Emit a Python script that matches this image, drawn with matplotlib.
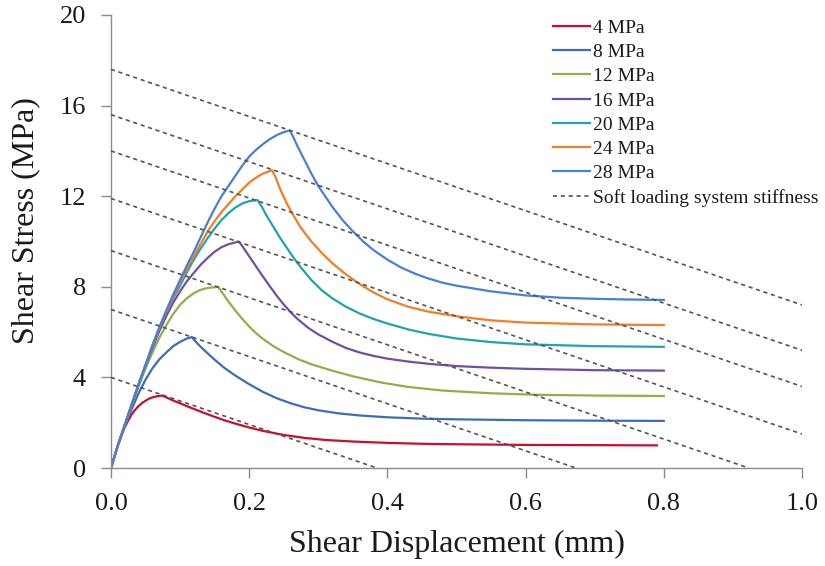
import matplotlib
matplotlib.use("Agg")
import matplotlib.pyplot as plt

# normal stress levels and their shear stress-displacement curves (mm, MPa)
labels = ["4 MPa", "8 MPa", "12 MPa", "16 MPa", "20 MPa", "24 MPa", "28 MPa"]

disp_4 = [0, 0.005, 0.01, 0.015, 0.02, 0.025, 0.03, 0.035, 0.04, 0.045, 0.05, 0.055,
          0.06, 0.067, 0.074, 0.08, 0.09, 0.10, 0.11, 0.12, 0.135, 0.15, 0.165, 0.18,
          0.20, 0.22, 0.25, 0.28, 0.31, 0.35, 0.40, 0.45, 0.50, 0.60, 0.70, 0.79]
stress_4 = [0, 0.5, 1.0, 1.42, 1.8, 2.1, 2.37, 2.57, 2.74, 2.87, 2.97, 3.06,
            3.12, 3.17, 3.2, 3.12, 2.98, 2.86, 2.73, 2.61, 2.43, 2.26, 2.1, 1.96,
            1.79, 1.64, 1.46, 1.33, 1.24, 1.17, 1.11, 1.07, 1.05, 1.02, 1.01, 1.0]

disp_8 = [0, 0.01, 0.02, 0.03, 0.04, 0.05, 0.06, 0.07, 0.08, 0.09, 0.10, 0.11, 0.117,
          0.125, 0.135, 0.15, 0.165, 0.18, 0.20, 0.22, 0.24, 0.26, 0.28, 0.30, 0.33,
          0.36, 0.40, 0.45, 0.50, 0.60, 0.70, 0.80]
stress_8 = [0, 1.0, 1.85, 2.6, 3.3, 3.9, 4.4, 4.8, 5.1, 5.38, 5.57, 5.72, 5.78,
            5.5, 5.2, 4.78, 4.4, 4.08, 3.7, 3.36, 3.08, 2.86, 2.68, 2.55, 2.41,
            2.32, 2.24, 2.18, 2.15, 2.11, 2.09, 2.08]

disp_12 = [0, 0.01, 0.02, 0.03, 0.04, 0.05, 0.06, 0.07, 0.08, 0.09, 0.10, 0.11, 0.12,
           0.13, 0.14, 0.155, 0.162, 0.17, 0.18, 0.19, 0.20, 0.21, 0.22, 0.235, 0.25,
           0.27, 0.29, 0.32, 0.35, 0.39, 0.43, 0.48, 0.55, 0.62, 0.70, 0.80]
stress_12 = [0, 1.0, 1.9, 2.8, 3.6, 4.4, 5.1, 5.75, 6.3, 6.8, 7.2, 7.5, 7.72,
             7.87, 7.95, 8.0, 7.7, 7.35, 6.95, 6.58, 6.25, 5.95, 5.7, 5.38, 5.12,
             4.82, 4.58, 4.3, 4.05, 3.78, 3.58, 3.42, 3.3, 3.23, 3.2, 3.18]

disp_16 = [0, 0.01, 0.02, 0.03, 0.04, 0.05, 0.06, 0.07, 0.08, 0.09, 0.10, 0.11, 0.12,
           0.13, 0.14, 0.15, 0.16, 0.17, 0.185, 0.19, 0.20, 0.21, 0.22, 0.23, 0.24,
           0.25, 0.26, 0.27, 0.285, 0.30, 0.32, 0.34, 0.36, 0.38, 0.40, 0.43, 0.46,
           0.50, 0.55, 0.60, 0.70, 0.80]
stress_16 = [0, 1.0, 1.9, 2.8, 3.7, 4.5, 5.3, 6.05, 6.7, 7.3, 7.8, 8.25, 8.62,
             8.98, 9.28, 9.55, 9.75, 9.88, 10.0, 9.8, 9.35, 8.9, 8.45, 8.02, 7.6,
             7.22, 6.88, 6.58, 6.2, 5.9, 5.58, 5.3, 5.1, 4.95, 4.83, 4.7, 4.6,
             4.5, 4.43, 4.38, 4.32, 4.3]

disp_20 = [0, 0.01, 0.02, 0.03, 0.04, 0.05, 0.06, 0.07, 0.08, 0.09, 0.10, 0.11, 0.12,
           0.13, 0.14, 0.15, 0.16, 0.17, 0.18, 0.19, 0.20, 0.212, 0.218, 0.225, 0.235,
           0.245, 0.255, 0.265, 0.275, 0.29, 0.305, 0.32, 0.34, 0.36, 0.38, 0.40,
           0.43, 0.46, 0.50, 0.55, 0.60, 0.70, 0.80]
stress_20 = [0, 1.0, 1.9, 2.8, 3.7, 4.55, 5.4, 6.2, 6.9, 7.5, 8.05, 8.65, 9.2,
             9.7, 10.15, 10.57, 10.95, 11.25, 11.5, 11.68, 11.78, 11.83, 11.55, 11.15, 10.65,
             10.15, 9.7, 9.25, 8.85, 8.3, 7.85, 7.5, 7.12, 6.82, 6.58, 6.38,
             6.12, 5.92, 5.72, 5.56, 5.46, 5.38, 5.35]

disp_24 = [0, 0.01, 0.02, 0.03, 0.04, 0.05, 0.06, 0.07, 0.08, 0.09, 0.10, 0.11, 0.12,
           0.13, 0.14, 0.15, 0.16, 0.17, 0.18, 0.19, 0.20, 0.21, 0.22, 0.233, 0.238,
           0.245, 0.255, 0.265, 0.275, 0.29, 0.305, 0.32, 0.34, 0.36, 0.38, 0.40,
           0.43, 0.46, 0.50, 0.55, 0.60, 0.70, 0.80]
stress_24 = [0, 1.0, 1.9, 2.8, 3.7, 4.55, 5.4, 6.2, 6.9, 7.55, 8.2, 8.8, 9.35,
             9.9, 10.45, 10.9, 11.3, 11.65, 12.0, 12.3, 12.6, 12.82, 13.0, 13.15, 12.85,
             12.3, 11.65, 11.1, 10.6, 10.0, 9.5, 9.05, 8.55, 8.12, 7.75, 7.45,
             7.12, 6.9, 6.7, 6.52, 6.42, 6.34, 6.31]

disp_28 = [0, 0.01, 0.02, 0.03, 0.04, 0.05, 0.06, 0.07, 0.08, 0.09, 0.10, 0.11, 0.12,
           0.13, 0.14, 0.15, 0.16, 0.17, 0.18, 0.19, 0.20, 0.21, 0.22, 0.23, 0.24,
           0.25, 0.259, 0.264, 0.27, 0.28, 0.29, 0.30, 0.31, 0.32, 0.335, 0.35, 0.365,
           0.38, 0.40, 0.42, 0.44, 0.46, 0.48, 0.50, 0.55, 0.60, 0.65, 0.70, 0.75, 0.80]
stress_28 = [0, 1.0, 1.9, 2.8, 3.7, 4.55, 5.4, 6.2, 6.95, 7.65, 8.3, 8.95, 9.55,
             10.2, 10.85, 11.45, 12.0, 12.45, 12.9, 13.35, 13.75, 14.05, 14.3, 14.52, 14.7,
             14.83, 14.9, 14.6, 14.2, 13.6, 13.0, 12.45, 12.0, 11.55, 10.95, 10.45, 10.0,
             9.62, 9.2, 8.85, 8.58, 8.36, 8.18, 8.05, 7.8, 7.62, 7.52, 7.47, 7.44, 7.42]

# soft loading system stiffness lines (start/end points)
soft_x0 = [0, 0, 0, 0, 0, 0, 0]
soft_y0 = [4.0, 7.0, 9.6, 11.9, 14.0, 15.6, 17.6]
soft_x1 = [0.385, 0.673, 0.923, 1.0, 1.0, 1.0, 1.0]
soft_y1 = [0, 0, 0, 1.5, 3.6, 5.2, 7.2]

x_ticks = [0.0, 0.2, 0.4, 0.6, 0.8, 1.0]
y_ticks = [0, 4, 8, 12, 16, 20]

COLORS = ["#C8102E", "#3D6DB5", "#8DB04A", "#7050A0", "#1FA3AE", "#F07F25", "#4A80D0"]
SPINE_COLOR = "#8C8C8C"
DASH_COLOR = "#555555"
TEXT_COLOR = "#1a1a1a"

plt.rcParams["font.family"] = ["Liberation Serif", "DejaVu Serif"]

fig = plt.figure(figsize=(8.25, 5.66), dpi=100)
ax = fig.add_axes([0.1345, 0.1731, 0.8376, 0.8004])

curves = [(disp_4, stress_4), (disp_8, stress_8), (disp_12, stress_12),
          (disp_16, stress_16), (disp_20, stress_20), (disp_24, stress_24),
          (disp_28, stress_28)]
for (xs, ys), label, color in zip(curves, labels, COLORS):
    ax.plot(xs, ys, color=color, linewidth=1.6, label=label, zorder=2,
            solid_joinstyle="round")

for i in range(len(soft_y0)):
    ax.plot([soft_x0[i], soft_x1[i]], [soft_y0[i], soft_y1[i]], color=DASH_COLOR,
            linewidth=1.2, linestyle=(0, (2.5, 2.2)), zorder=3,
            label="Soft loading system stiffness" if i == 0 else None)

ax.set_xlim(0, 1.0)
ax.set_ylim(0, 20)
ax.set_xticks(x_ticks)
ax.set_xticklabels([f"{t:.1f}" for t in x_ticks])
ax.set_yticks(y_ticks)
ax.set_yticklabels([str(t) for t in y_ticks])

for side in ("top", "right"):
    ax.spines[side].set_visible(False)
for side in ("left", "bottom"):
    ax.spines[side].set_color(SPINE_COLOR)
    ax.spines[side].set_linewidth(1.0)
ax.tick_params(direction="out", length=7, width=1.0, color=SPINE_COLOR,
               labelsize=19, labelcolor=TEXT_COLOR, pad=11)

ax.set_xlabel("Shear Displacement (mm)", fontsize=23, color=TEXT_COLOR, labelpad=11)
ax.set_ylabel("Shear Stress (MPa)", fontsize=23, color=TEXT_COLOR)
ax.yaxis.set_label_coords(-0.103, 0.547)

ax.legend(loc="upper left", bbox_to_anchor=(0.670, 0.966), bbox_transform=fig.transFigure,
          frameon=False, fontsize=14, borderpad=0, borderaxespad=0,
          labelspacing=0.34, handlelength=1.9, handletextpad=0.15,
          labelcolor=TEXT_COLOR)

fig.savefig("out.png", dpi=100, facecolor="white")
